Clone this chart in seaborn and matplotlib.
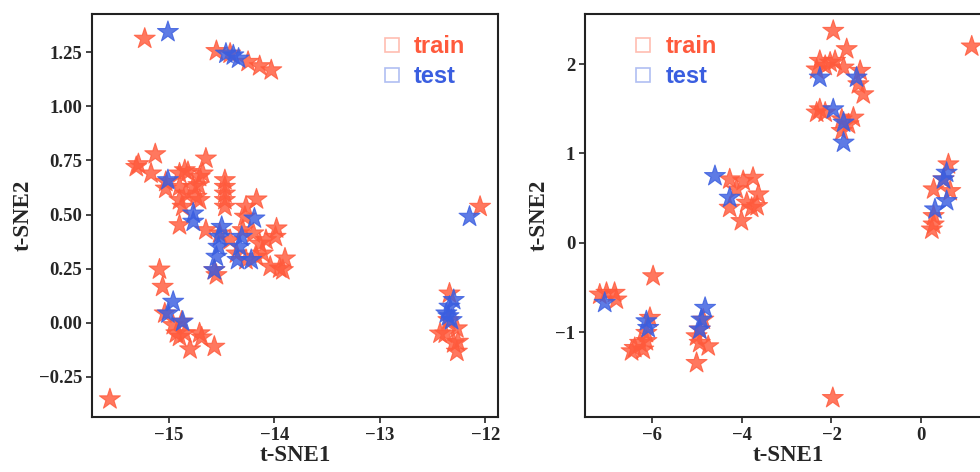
import matplotlib
matplotlib.use("Agg")
import matplotlib.pyplot as plt
from matplotlib.lines import Line2D
import seaborn as sns
import pandas as pd

# ---- data ----
left_train_x = [-15.23, -15.56, -14.55, -14.42, -14.25, -14.14, -14.03, -12.05,
                -12.34, -12.38, -12.27, -12.30, -12.27, -12.35, -12.26, -12.43,
                -15.09, -15.06, -15.04, -14.93, -14.90, -14.88, -14.80, -14.71, -14.69, -14.57, -14.96, -14.85,
                -15.29, -15.31, -15.13, -15.17, -15.03, -15.03, -14.90, -14.85, -14.82, -14.90, -14.90,
                -14.87, -14.84, -14.77, -14.72, -14.71, -14.68, -14.65, -14.71, -14.74, -14.90, -14.65,
                -14.47, -14.47, -14.47, -14.47, -14.47,
                -14.27, -14.17, -14.28, -14.30, -14.20, -14.14, -14.08, -14.11, -14.17, -13.98, -13.99,
                -14.04, -13.95, -13.90, -13.92,
                -14.57, -14.55, -14.52, -14.42, -14.36, -14.27]
left_train_y = [1.313, -0.354, 1.256, 1.244, 1.206, 1.186, 1.167, 0.536,
                0.135, -0.05, -0.026, -0.095, -0.134, 0.012, -0.088, -0.05,
                0.246, 0.166, 0.043, -0.049, -0.065, 0.005, -0.123, -0.049, -0.068, -0.111, -0.011, -0.049,
                0.733, 0.72, 0.779, 0.69, 0.62, 0.651, 0.69, 0.705, 0.697, 0.628, 0.567,
                0.536, 0.597, 0.628, 0.636, 0.674, 0.69, 0.759, 0.567, 0.582, 0.451, 0.428,
                0.659, 0.628, 0.597, 0.567, 0.536,
                0.536, 0.57, 0.49, 0.428, 0.413, 0.366, 0.382, 0.32, 0.305, 0.436, 0.397,
                0.259, 0.251, 0.297, 0.243,
                0.243, 0.22, 0.413, 0.382, 0.32, 0.29]
left_test_x = [-15.01, -14.46, -14.39, -14.34, -12.15, -12.37, -12.34, -12.30, -12.32, -12.35,
               -15.01, -14.77, -14.77, -14.50, -14.52, -14.53, -14.55, -14.57, -14.31, -14.33,
               -14.35, -14.22, -14.19, -14.96, -15.01, -14.87]
left_test_y = [1.344, 1.244, 1.236, 1.221, 0.49, 0.043, 0.074, 0.105, 0.012, 0.03,
               0.659, 0.505, 0.467, 0.443, 0.397, 0.351, 0.305, 0.243, 0.397, 0.351,
               0.29, 0.29, 0.482, 0.097, 0.043, 0.005]

right_train_x = [-1.96, -1.66, 1.13, -2.26, -2.14, -2.03, -1.92, -1.73, -2.33, -1.36, -1.40, -1.29,
                 -2.26, -2.14, -2.33, -1.77, -1.51, -1.62, -1.77,
                 -4.27, -3.97, -3.75, -3.63, -3.66, -3.89, -4.01, -4.27, -4.12, -3.78,
                 0.61, 0.28, 0.65, 0.28, 0.24, 0.28, 0.50,
                 -5.98, -7.02, -6.84, -6.80, -7.17,
                 -6.05, -6.13, -6.39, -6.20, -6.46, -6.27, -6.13,
                 -5.01, -4.75, -5.01, -4.94, -4.86, -4.94,
                 -1.97]
right_train_y = [2.372, 2.167, 2.197, 2.036, 1.98, 2.017, 2.036, 1.961, 1.94, 1.924, 1.774, 1.662,
                 1.494, 1.457, 1.457, 1.382, 1.401, 1.326, 1.251,
                 0.71, 0.691, 0.728, 0.542, 0.411, 0.448, 0.243, 0.392, 0.598, 0.392,
                 0.878, 0.598, 0.579, 0.299, 0.149, 0.205, 0.71,
                 -0.374, -0.56, -0.56, -0.635, -0.579,
                 -0.84, -1.009, -1.177, -1.195, -1.214, -1.12, -1.10,
                 -1.345, -1.158, -1.046, -1.12, -0.86, -0.97,
                 -1.737]
right_test_x = [-2.26, -1.44, -1.96, -1.73, -1.73, -4.60, -4.27, 0.57, 0.50, 0.57, 0.31,
                -7.06, -6.13, -6.09, -4.82, -4.90, -4.94]
right_test_y = [1.849, 1.849, 1.494, 1.345, 1.121, 0.747, 0.504, 0.784, 0.71, 0.467, 0.374,
                -0.672, -0.878, -0.953, -0.728, -0.86, -0.971]

groups = ["train", "test"]

# ---- style ----
sns.set_style("white")
plt.rcParams["font.family"] = ["Liberation Serif", "DejaVu Serif"]
plt.rcParams["axes.unicode_minus"] = True

RED = "#ff5a3c"
BLUE = "#3a5ee0"
palette = {"train": RED, "test": BLUE}

fig = plt.figure(figsize=(9.8, 4.72), dpi=100)
ax1 = fig.add_axes([92 / 980, 1 - 417 / 472, 406 / 980, 403 / 472])
ax2 = fig.add_axes([585 / 980, 1 - 417 / 472, 406 / 980, 403 / 472])


def make_df(tx, ty, sx, sy):
    return pd.concat([
        pd.DataFrame({"x": tx, "y": ty, "set": "train"}),
        pd.DataFrame({"x": sx, "y": sy, "set": "test"}),
    ], ignore_index=True)


df_left = make_df(left_train_x, left_train_y, left_test_x, left_test_y)
df_right = make_df(right_train_x, right_train_y, right_test_x, right_test_y)

for ax, df, xlim, ylim, legx in [
    (ax1, df_left, (-15.73, -11.88), (-0.436, 1.427), 0.665),
    (ax2, df_right, (-7.50, 1.56), (-1.95, 2.56), 0.07),
]:
    sns.scatterplot(data=df, x="x", y="y", hue="set", hue_order=groups, palette=palette,
                    marker="*", s=250, alpha=0.82, linewidth=0.8, edgecolor="face",
                    ax=ax, legend=False)
    ax.set_xlim(*xlim)
    ax.set_ylim(*ylim)
    ax.set_xlabel("t-SNE1", fontsize=16.5, fontweight="bold", labelpad=1)
    ax.set_ylabel("t-SNE2", fontsize=16.5, fontweight="bold", labelpad=4)
    ax.tick_params(axis="both", labelsize=13.5, length=4, width=1.2, direction="out",
                   bottom=True, left=True, pad=3)
    for lab in ax.get_xticklabels() + ax.get_yticklabels():
        lab.set_fontweight("bold")
    for sp in ax.spines.values():
        sp.set_linewidth(1.5)
        sp.set_color("#222222")
    handles = [Line2D([], [], marker="s", linestyle="none", markerfacecolor="none",
                      markeredgecolor=palette[g], alpha=0.4, markersize=10, markeredgewidth=1.2)
               for g in groups]
    leg = ax.legend(handles, groups, loc="upper left", bbox_to_anchor=(legx, 1.0),
                    frameon=False, handlelength=0.7, handletextpad=0.6, labelspacing=0.3,
                    prop={"family": "Liberation Sans", "weight": "bold", "size": 17})
    for t, g in zip(leg.get_texts(), groups):
        t.set_color(palette[g])

ax1.set_yticks([-0.25, 0.0, 0.25, 0.5, 0.75, 1.0, 1.25])
ax1.set_xticks([-15, -14, -13, -12])
ax2.set_xticks([-6, -4, -2, 0])
ax2.set_yticks([-1, 0, 1, 2])

fig.savefig("out.png", dpi=100)
